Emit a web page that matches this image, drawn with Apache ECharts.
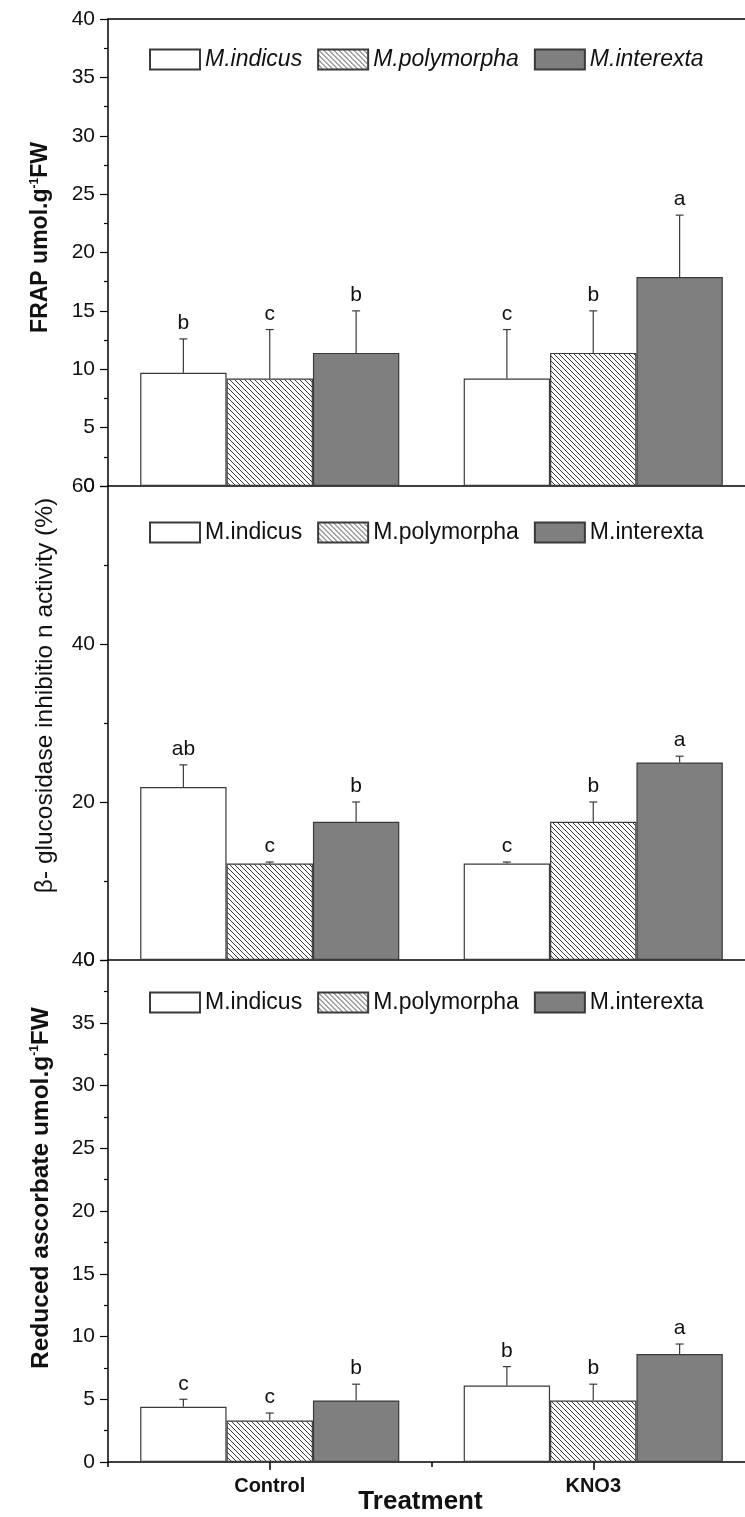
<!DOCTYPE html>
<html>
<head>
<meta charset="utf-8">
<script src="https://cdn.jsdelivr.net/npm/echarts@6/dist/echarts.min.js"></script>
<style>
  html, body { margin: 0; padding: 0; background: #fff; }
  #chart { width: 745px; height: 1517px; }
</style>
</head>
<body>
<div id="chart"></div>
<script>
// treatments on the x axis, species as bar series
var categories = ['Control', 'KNO3'];
var species = ['M.indicus', 'M.polymorpha', 'M.interexta'];

// FRAP umol/g FW  (rows = species, cols = treatment)
var frapMean = [[9.7, 9.2], [9.2, 11.4], [11.4, 17.9]];
var frapErr = [[2.9, 4.2], [4.2, 3.6], [3.6, 5.3]];
var frapLetters = [['b', 'c'], ['c', 'b'], ['b', 'a']];

// beta-glucosidase inhibition activity (%)
var glucMean = [[21.9, 12.2], [12.2, 17.5], [17.5, 25.0]];
var glucErr = [[2.8, 0.2], [0.2, 2.5], [2.5, 0.8]];
var glucLetters = [['ab', 'c'], ['c', 'b'], ['b', 'a']];

// reduced ascorbate umol/g FW
var ascMean = [[4.4, 6.1], [3.3, 4.9], [4.9, 8.6]];
var ascErr = [[0.6, 1.5], [0.6, 1.3], [1.3, 0.8]];
var ascLetters = [['c', 'b'], ['c', 'b'], ['b', 'a']];

var FONT = '"Liberation Sans", Arial, sans-serif';
var INK = '#111';
var BAR_W = 0.267;

function hatchPattern() {
    var c = document.createElement('canvas');
    c.width = 5; c.height = 5;
    var ctx = c.getContext('2d');
    ctx.fillStyle = '#fff';
    ctx.fillRect(0, 0, 5, 5);
    ctx.strokeStyle = '#3a3a3a';
    ctx.lineWidth = 1;
    ctx.beginPath();
    ctx.moveTo(-1, -1); ctx.lineTo(6, 6);
    ctx.moveTo(-1, 4); ctx.lineTo(1, 6);
    ctx.moveTo(4, -1); ctx.lineTo(6, 1);
    ctx.stroke();
    return { image: c, repeat: 'repeat' };
}

var fills = ['#ffffff', hatchPattern(), '#7f7f7f'];

var chart = echarts.init(document.getElementById('chart'));

var grids = [
    { left: 108, right: -10, top: 19, height: 467, outerBoundsMode: 'none' },
    { left: 108, right: -10, top: 486, height: 474, outerBoundsMode: 'none' },
    { left: 108, right: -10, top: 960, height: 502, outerBoundsMode: 'none' }
];

function yAxis(gridIndex, max, interval, name, bold, size, gap, shift) {
    var w = bold ? 'bold' : 'normal';
    return {
        type: 'value', gridIndex: gridIndex, min: 0, max: max, interval: interval,
        axisLine: { show: true, lineStyle: { color: '#000', width: 1.5 } },
        axisTick: { show: true, inside: false, length: 8, lineStyle: { color: '#000', width: 1.2 } },
        minorTick: { show: true, splitNumber: 2, length: 4, lineStyle: { color: '#000', width: 1.2 } },
        splitLine: { show: false },
        axisLabel: { color: INK, fontSize: 21, fontFamily: FONT, margin: 13 },
        name: name, nameLocation: 'middle', nameRotate: 90, nameGap: gap,
        nameTextStyle: {
            color: INK, fontFamily: FONT, fontSize: size, fontWeight: w,
            padding: [0, 0, 0, shift],
            rich: {
                n: { fontSize: size, fontFamily: FONT, fontWeight: w, color: INK },
                s: { fontSize: 12, fontFamily: FONT, fontWeight: w, color: INK, verticalAlign: 'top', padding: [0, 0, 12, 0] }
            }
        }
    };
}

function catAxis(gridIndex, opts) {
    return Object.assign({
        type: 'category', gridIndex: gridIndex, data: categories,
        axisLine: { show: true, lineStyle: { color: '#000', width: 1.5 } },
        axisTick: { show: false },
        axisLabel: { show: false }
    }, opts || {});
}

var xAxes = [
    catAxis(0, { position: 'bottom' }),
    catAxis(0, { position: 'top' }),
    catAxis(1, { position: 'bottom' }),
    catAxis(2, {
        position: 'bottom',
        axisTick: { show: true, alignWithLabel: true, length: 8, lineStyle: { color: '#000', width: 1.5 } },
        axisLabel: { show: true, color: INK, fontSize: 20, fontWeight: 'bold', fontFamily: FONT, margin: 14 },
        name: 'Treatment', nameLocation: 'middle', nameGap: 27, nameMoveOverlap: false,
        nameTextStyle: { color: INK, fontSize: 26, fontWeight: 'bold', fontFamily: FONT, padding: [0, 22, 0, 0] }
    }),
    // minor ticks between the two treatment groups
    catAxis(2, {
        position: 'bottom', offset: 0,
        axisLine: { show: false },
        axisTick: { show: true, length: 5, lineStyle: { color: '#000', width: 1.5 } }
    })
];

var yAxes = [
    yAxis(0, 40, 5, '{n|FRAP umol.g}{s|-1}{n|FW}', true, 23, 55, 30),
    yAxis(1, 60, 20, 'β- glucosidase inhibitio n activity (%)', false, 24.5, 50, 55),
    yAxis(2, 40, 5, '{n|Reduced ascorbate umol.g}{s|-1}{n|FW}', true, 24.5, 54, 46)
];

var series = [];

function addPanel(gridIdx, xIdx, means, errs, letters) {
    species.forEach(function (sp, k) {
        series.push({
            name: sp, type: 'bar', xAxisIndex: xIdx, yAxisIndex: gridIdx,
            barWidth: (BAR_W * 100) + '%', barGap: '0%',
            data: means[k],
            itemStyle: { color: fills[k], borderColor: '#3a3a3a', borderWidth: 1.2 }
        });
    });
    var rows = [];
    var tags = [];
    species.forEach(function (sp, k) {
        categories.forEach(function (c, ci) {
            rows.push([ci, k, means[k][ci], errs[k][ci]]);
            tags.push(letters[k][ci]);
        });
    });
    series.push({
        type: 'custom', xAxisIndex: xIdx, yAxisIndex: gridIdx, z: 5,
        data: rows,
        encode: { x: 0, y: 2 },
        renderItem: function (params, api) {
            var ci = api.value(0), k = api.value(1);
            var m = api.value(2), e = api.value(3);
            var base = api.coord([ci, m]);
            var tip = api.coord([ci, m + e]);
            var bw = api.size([1, 0])[0] * BAR_W;
            var x = base[0] + (k - 1) * bw;
            var st = { stroke: '#3a3a3a', lineWidth: 1.2 };
            return {
                type: 'group',
                children: [
                    { type: 'line', shape: { x1: x, y1: base[1], x2: x, y2: tip[1] }, style: st },
                    { type: 'line', shape: { x1: x - 4, y1: tip[1], x2: x + 4, y2: tip[1] }, style: st },
                    {
                        type: 'text', x: x, y: tip[1] - 5,
                        style: {
                            text: tags[params.dataIndex], fill: INK, font: '21px ' + FONT,
                            align: 'center', verticalAlign: 'bottom'
                        }
                    }
                ]
            };
        }
    });
}

addPanel(0, 0, frapMean, frapErr, frapLetters);
addPanel(1, 2, glucMean, glucErr, glucLetters);
addPanel(2, 3, ascMean, ascErr, ascLetters);

function legend(top, italic) {
    return {
        data: species, left: 149, top: top, padding: 0,
        itemWidth: 50, itemHeight: 20, itemGap: 15,
        icon: 'rect', selectedMode: false,
        textStyle: { color: INK, fontSize: 23, fontFamily: FONT, fontStyle: italic ? 'italic' : 'normal' }
    };
}

chart.setOption({
    animation: false,
    backgroundColor: '#fff',
    grid: grids,
    xAxis: xAxes,
    yAxis: yAxes,
    legend: [legend(48, true), legend(521, false), legend(991, false)],
    series: series
});
</script>
</body>
</html>
